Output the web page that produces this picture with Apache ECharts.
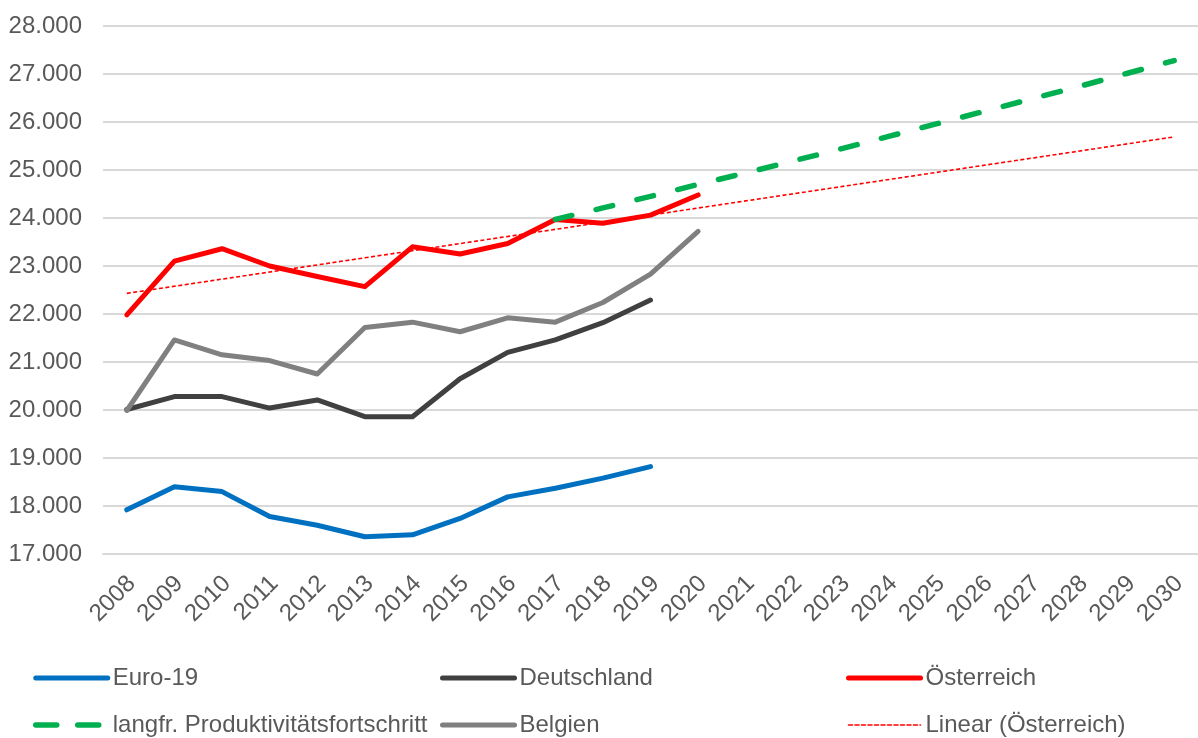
<!DOCTYPE html>
<html>
<head>
<meta charset="utf-8">
<script src="https://cdn.jsdelivr.net/npm/echarts@6/dist/echarts.min.js"></script>
<style>
html,body{margin:0;padding:0;background:#fff;}
#chart{width:1198px;height:738px;}
</style>
</head>
<body>
<div id="chart"></div>
<script>
var years = ['2008','2009','2010','2011','2012','2013','2014','2015','2016','2017','2018','2019','2020','2021','2022','2023','2024','2025','2026','2027','2028','2029','2030'];
var euro19 = [17920,18400,18300,17780,17600,17360,17400,17740,18190,18370,18580,18820];
var deutschland = [20010,20280,20280,20040,20210,19860,19860,20650,21200,21460,21820,22290];
var oesterreich = [21980,23100,23360,23000,22780,22570,23400,23250,23470,23970,23890,24060,24480];
var belgien = [19990,21460,21150,21030,20750,21720,21830,21630,21920,21830,22240,22830,23720];
var produktivitaet = [null,null,null,null,null,null,null,null,null,23970,24210,24450,24700,24940,25190,25440,25700,25960,26220,26480,26740,27010,27280];
var linearOesterreich = [22430,null,null,null,null,null,null,null,null,null,null,null,null,null,null,null,null,null,null,null,null,null,25690];

var FONT = '"Liberation Sans", Arial, sans-serif';
var TXT = '#595959';
var chart = echarts.init(document.getElementById('chart'), null, {renderer:'canvas'});

function legendBox(left, items){
  return {
    orient:'vertical', left:left, top:666, height:120, itemGap:23, padding:0,
    itemWidth:72, itemHeight:14,
    data:items,
    itemStyle:{color:'rgba(0,0,0,0)', borderWidth:0, opacity:0},
    lineStyle:{width:'inherit', type:'inherit', cap:'round'},
    textStyle:{fontFamily:FONT, fontSize:24, color:TXT},
    selectedMode:false
  };
}

chart.setOption({
  animation:false,
  backgroundColor:'#ffffff',
  grid:{left:103, top:26, width:1110, height:528, containLabel:false},
  legend:[
    legendBox(33, [{name:'Euro-19'},
      {name:'langfr. Produktivitätsfortschritt', lineStyle:{type:[21,21], width:5.5, cap:'round'}}]),
    legendBox(440, [{name:'Deutschland'},{name:'Belgien'}]),
    legendBox(846, [{name:'Österreich'},{name:'Linear (Österreich)'}])
  ],
  xAxis:{
    type:'category', data:years, boundaryGap:true,
    axisLine:{show:true, lineStyle:{color:'#D9D9D9', width:2}},
    axisTick:{show:false},
    axisLabel:{interval:0, rotate:45, margin:21, verticalAlign:'top', lineHeight:14,
      fontFamily:FONT, fontSize:24, color:TXT},
    splitLine:{show:false}
  },
  yAxis:{
    type:'value', min:17000, max:28000, interval:1000,
    axisLine:{show:false}, axisTick:{show:false},
    axisLabel:{margin:21, fontFamily:FONT, fontSize:24, color:TXT,
      formatter:function(v){return (v/1000).toFixed(3);}},
    splitLine:{show:true, lineStyle:{color:'#D9D9D9', width:2}}
  },
  series:[
    {name:'Euro-19', type:'line', data:euro19, symbol:'none',
     lineStyle:{color:'#0070C0', width:5, cap:'round', join:'round'}, itemStyle:{color:'#0070C0'}},
    {name:'Deutschland', type:'line', data:deutschland, symbol:'none',
     lineStyle:{color:'#404040', width:5, cap:'round', join:'round'}, itemStyle:{color:'#404040'}},
    {name:'Belgien', type:'line', data:belgien, symbol:'none',
     lineStyle:{color:'#808080', width:5, cap:'round', join:'round'}, itemStyle:{color:'#808080'}},
    {name:'Österreich', type:'line', data:oesterreich, symbol:'none',
     lineStyle:{color:'#FF0000', width:5, cap:'round', join:'round'}, itemStyle:{color:'#FF0000'}},
    {name:'langfr. Produktivitätsfortschritt', type:'line', data:produktivitaet, symbol:'none',
     lineStyle:{color:'#00B050', width:5.5, type:[17,25], cap:'round'}, itemStyle:{color:'#00B050'}},
    {name:'Linear (Österreich)', type:'line', data:linearOesterreich, symbol:'none', connectNulls:true,
     lineStyle:{color:'#FF0000', width:1.6, type:[4,2.5]}, itemStyle:{color:'#FF0000'}}
  ]
});
</script>
</body>
</html>
